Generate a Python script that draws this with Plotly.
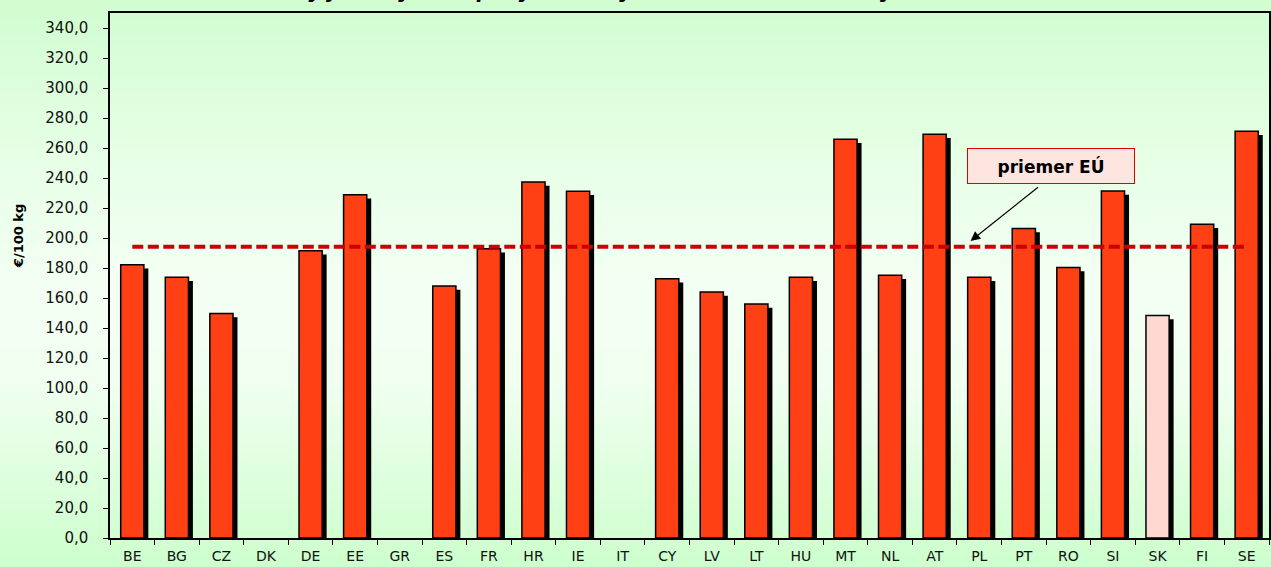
import plotly.graph_objects as go

# ---- data ----
countries = ["BE", "BG", "CZ", "DK", "DE", "EE", "GR", "ES", "FR", "HR", "IE", "IT", "CY",
             "LV", "LT", "HU", "MT", "NL", "AT", "PL", "PT", "RO", "SI", "SK", "FI", "SE"]
prices = [182.2, 173.8, 149.6, None, 191.5, 228.9, None, 168.0, 192.9, 237.3, 231.1, None, 172.9,
          164.0, 156.0, 173.8, 265.8, 175.1, 269.1, 173.8, 206.4, 180.4, 231.3, 148.4, 209.1, 271.1]
eu_average = 194.2
highlight = "SK"
y_ticks = list(range(0, 341, 20))

title_text = "Ceny jatočných ošípaných triedy E v štátoch EÚ v 35. týždni 2023"
avg_label = "priemer EÚ"
y_title = "€/100 kg"

# ---- styling ----
W, H = 1271, 567
ML, MR, MT, MB = 110, 0, 13, 29
PW, PH = W - ML - MR, H - MT - MB
RED = "#FF3F14"
PINK = "#FFD8D2"
bar_colors = [PINK if c == highlight else RED for c in countries]
shadow_vals = [None if v is None else v - 2.5 for v in prices]

fig = go.Figure()

# shadow bars
fig.add_trace(go.Bar(
    x=countries, y=shadow_vals, width=0.52, offset=-0.16,
    marker=dict(color="black", line=dict(width=0)),
    hoverinfo="skip", showlegend=False))
# main bars
fig.add_trace(go.Bar(
    x=countries, y=prices, width=0.52, offset=-0.26,
    marker=dict(color=bar_colors, line=dict(color="black", width=1.5)),
    showlegend=False))
# EU average line
fig.add_trace(go.Scatter(
    x=countries, y=[eu_average] * len(countries), mode="lines",
    line=dict(color="#CC0000", width=4, dash="11px,4.5px"),
    showlegend=False, hoverinfo="skip"))

# background gradient (green -> near white -> green)
stops = [(0.0, (208, 253, 208)), (0.25, (228, 255, 228)), (0.5, (244, 255, 244)),
         (0.68, (240, 255, 240)), (1.0, (205, 255, 205))]

def col_at(t):
    for (t0, c0), (t1, c1) in zip(stops[:-1], stops[1:]):
        if t0 <= t <= t1:
            f = (t - t0) / (t1 - t0) if t1 > t0 else 0
            return "rgb(%d,%d,%d)" % tuple(round(a + (b - a) * f) for a, b in zip(c0, c1))
    return "rgb(%d,%d,%d)" % stops[-1][1]

shapes = []
N = 60
for i in range(N):
    top_px = i * H / N
    bot_px = (i + 1) * H / N
    y1 = (H - MB - top_px) / PH
    y0 = (H - MB - bot_px) / PH
    shapes.append(dict(type="rect", xref="paper", yref="paper",
                       x0=-0.2, x1=1.2, y0=y0 - 0.002, y1=y1 + 0.002,
                       fillcolor=col_at((i + 0.5) / N), line=dict(width=0), layer="below"))

def px_x(p):
    return (p - ML) / PW

def px_y(p):
    return (H - MB - p) / PH

annotations = [
    dict(text="<b><i>" + title_text + "</i></b>", xref="paper", yref="paper",
         x=px_x(W / 2), y=px_y(-9), xanchor="center", yanchor="middle",
         showarrow=False, font=dict(family="DejaVu Sans", size=20, color="black")),
    dict(text="<b>" + y_title + "</b>", xref="paper", yref="paper",
         x=px_x(18), y=px_y(236), textangle=-90, showarrow=False,
         xanchor="center", yanchor="middle",
         font=dict(family="DejaVu Sans", size=13, color="black")),
    dict(text="<b>" + avg_label + "</b>", xref="paper", yref="paper",
         x=px_x(1053), y=px_y(166), showarrow=False, xanchor="center", yanchor="middle",
         width=166, height=34, borderpad=0, bgcolor="#FFE5E0",
         bordercolor="#E00000", borderwidth=1,
         font=dict(family="DejaVu Sans", size=17, color="black")),
    dict(text="", xref="paper", yref="paper", x=px_x(972), y=px_y(241),
         ax=69, ay=-55, showarrow=True, arrowhead=2, arrowsize=1.6,
         arrowwidth=1.2, arrowcolor="black"),
]

fig.update_layout(
    width=W, height=H,
    margin=dict(l=ML, r=MR, t=MT, b=MB, pad=0),
    paper_bgcolor="rgb(235,255,235)", plot_bgcolor="rgba(0,0,0,0)",
    barmode="overlay", separators=", ",
    shapes=shapes, annotations=annotations,
    font=dict(family="DejaVu Sans", color="#111111"),
)
fig.update_xaxes(type="category", categoryorder="array", categoryarray=countries,
                 showline=True, linecolor="black", linewidth=1.5, mirror=True,
                 ticks="outside", tickson="boundaries", ticklen=5, tickcolor="black",
                 showgrid=False, tickfont=dict(size=14, color="#111111"),
                 ticklabelstandoff=4,
                 range=[-0.5, len(countries) - 0.5])
fig.update_yaxes(range=[0, 350], tickvals=y_ticks, tickformat=".1f",
                 showline=True, linecolor="black", linewidth=1.5, mirror=True,
                 ticks="outside", ticklen=5, tickcolor="black",
                 showgrid=False, zeroline=False, ticklabelstandoff=12,
                 tickfont=dict(size=15, color="#111111"))

fig.write_html("out.html", config={"displayModeBar": False},
               post_script="document.body.style.margin='0px';document.body.style.overflow='hidden';")
